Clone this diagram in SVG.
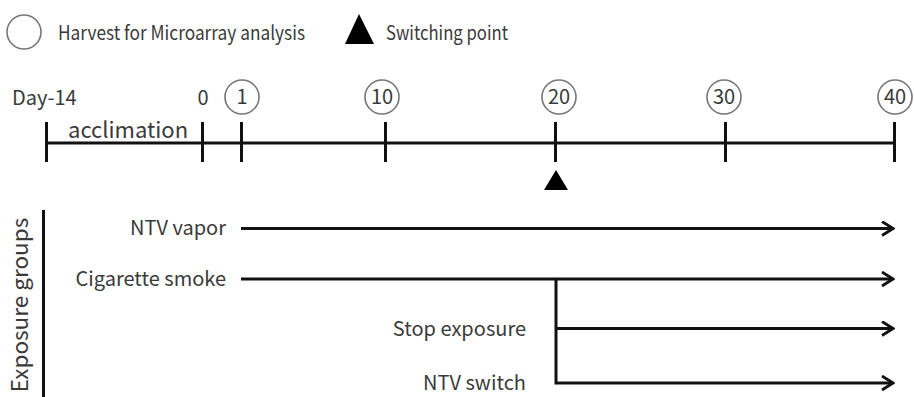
<svg xmlns="http://www.w3.org/2000/svg" width="914" height="397" viewBox="0 0 914 397">
<defs>
<style>
text{font-family:"Noto Sans CJK JP","Noto Sans",sans-serif;fill:#3a3a3a;}
.lbl{font-size:19.5px;}
.row{font-size:20px;text-anchor:end;}
.num{font-size:20px;text-anchor:middle;}
.ax{stroke:#111;stroke-width:3;fill:none;}
.circ{stroke:#777;stroke-width:1.6;fill:none;}
.con{stroke:#111;stroke-width:3;fill:none;}
</style>
<marker id="arr" viewBox="0 0 14 16" refX="12" refY="8" markerWidth="14" markerHeight="16" markerUnits="userSpaceOnUse" orient="auto">
<path d="M1,1 L12,8 L1,15" fill="none" stroke="#111" stroke-width="2.8"/>
</marker>
</defs>
<rect width="914" height="397" fill="#fff"/>
<g id="legend">
<circle class="circ" cx="24" cy="32" r="17"/>
<text class="lbl" x="58" y="39.5" textLength="247" lengthAdjust="spacingAndGlyphs">Harvest for Microarray analysis</text>
<polygon points="345,44 359,14 374,44" fill="#000"/>
<text class="lbl" x="386" y="39.5" textLength="122" lengthAdjust="spacingAndGlyphs">Switching point</text>
</g>
<g id="timeline">
<line class="ax" x1="46.5" y1="143" x2="895" y2="143"/>
<line class="ax" x1="46.5" y1="122" x2="46.5" y2="162"/>
<line class="ax" x1="202.5" y1="122" x2="202.5" y2="162"/>
<line class="ax" x1="241.5" y1="122" x2="241.5" y2="162"/>
<line class="ax" x1="385.5" y1="122" x2="385.5" y2="162"/>
<line class="ax" x1="555.5" y1="122" x2="555.5" y2="162"/>
<line class="ax" x1="725.5" y1="122" x2="725.5" y2="162"/>
<line class="ax" x1="894.5" y1="122" x2="894.5" y2="162"/>
<text x="12" y="105" style="font-size:20px">Day-14</text>
<text class="num" x="203" y="105">0</text>
<text x="68" y="138" style="font-size:22px">acclimation</text>
<polygon points="544,190 556,170 568,190" fill="#000"/>
</g>
<g id="day1"><circle class="circ" cx="242" cy="97" r="17"/><text class="num" x="242" y="104">1</text></g>
<g id="day10"><circle class="circ" cx="382" cy="97" r="17"/><text class="num" x="382" y="104">10</text></g>
<g id="day20"><circle class="circ" cx="559" cy="97" r="17"/><text class="num" x="559" y="104">20</text></g>
<g id="day30"><circle class="circ" cx="724" cy="97" r="17"/><text class="num" x="724" y="104">30</text></g>
<g id="day40"><circle class="circ" cx="895" cy="97" r="17"/><text class="num" x="895" y="104">40</text></g>
<g id="groups-axis">
<line class="ax" x1="43.5" y1="210" x2="43.5" y2="397"/>
<text transform="translate(28,305) rotate(-90)" text-anchor="middle" style="font-size:22.5px">Exposure groups</text>
</g>
<g id="ntv-vapor"><text class="row" x="226" y="235">NTV vapor</text></g>
<g id="cigarette-smoke"><text class="row" x="226" y="286">Cigarette smoke</text></g>
<g id="stop-exposure"><text class="row" x="526" y="336">Stop exposure</text></g>
<g id="ntv-switch"><text class="row" x="526" y="390">NTV switch</text></g>
<g id="connectors">
<line class="con" x1="241" y1="228.5" x2="893" y2="228.5" marker-end="url(#arr)"/>
<line class="con" x1="241" y1="279" x2="893" y2="279" marker-end="url(#arr)"/>
<polyline class="con" points="556,279 556,383 893,383" marker-end="url(#arr)"/>
<line class="con" x1="556" y1="328.5" x2="893" y2="328.5" marker-end="url(#arr)"/>
</g>
</svg>
